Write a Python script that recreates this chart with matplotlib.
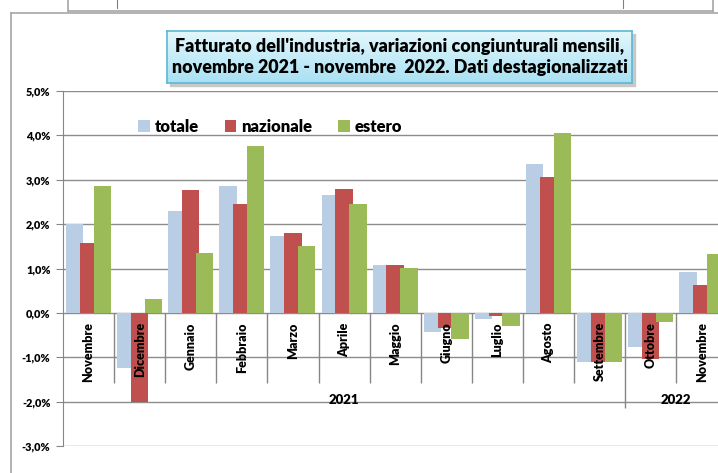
import numpy as np
import matplotlib
matplotlib.use("Agg")
import matplotlib.pyplot as plt
from matplotlib.lines import Line2D
from matplotlib.patches import Rectangle

plt.rcParams['font.family'] = ['Lato', 'DejaVu Sans']

mesi = ["Novembre", "Dicembre", "Gennaio", "Febbraio", "Marzo", "Aprile", "Maggio",
        "Giugno", "Luglio", "Agosto", "Settembre", "Ottobre", "Novembre"]
anni = ["2021", "2022"]
n_mesi_anno = [11, 2]

totale = [2.00, -1.25, 2.29, 2.86, 1.73, 2.65, 1.08, -0.43, -0.14, 3.36, -1.11, -0.77, 0.91]
nazionale = [1.57, -2.01, 2.76, 2.45, 1.80, 2.79, 1.07, -0.35, -0.07, 3.06, -1.11, -1.05, 0.63]
estero = [2.86, 0.31, 1.34, 3.75, 1.51, 2.45, 1.01, -0.58, -0.29, 4.05, -1.11, -0.21, 1.33]

serie = ["totale", "nazionale", "estero"]
colori = ['#b9cde5', '#c0504d', '#9bbb59']

W, H = 718, 473
fig = plt.figure(figsize=(W / 100, H / 100), dpi=100)
fig.patch.set_facecolor('white')

# cornice del grafico e pezzo di tabella sopra
gray = '#a6a6a6'
fig.add_artist(Line2D([11 / W, 11 / W], [0, 1 - 13 / H], color=gray, lw=1.2))
fig.add_artist(Line2D([11 / W, 1], [1 - 13 / H, 1 - 13 / H], color=gray, lw=1.2))
fig.add_artist(Line2D([68 / W, 713 / W], [1 - 11 / H, 1 - 11 / H], color=gray, lw=1.2))
for xx in [68, 713]:
    fig.add_artist(Line2D([xx / W, xx / W], [1 - 11 / H, 1], color=gray, lw=1.2))
for xx in [117, 623]:
    fig.add_artist(Line2D([xx / W, xx / W], [1 - 8 / H, 1], color='#808080', lw=0.8))

# grafico
gw = 51.1
ax = fig.add_axes([63 / W, 27 / H, 13 * gw / W, 355 / H])
x = np.arange(len(mesi)) + 0.5
offs = [-0.27, 0.0, 0.27]
for vals, lab, col, o in zip([totale, nazionale, estero], serie, colori, offs):
    ax.bar(x + o, np.array(vals) / 100, width=0.34, color=col, label=lab, zorder=2)

ax.set_xlim(0, len(mesi))
ax.set_ylim(-0.03, 0.05)
ax.set_yticks(np.arange(-0.03, 0.0501, 0.01))
ax.set_yticklabels([f"{v * 100:.1f}%".replace('.', ',') for v in ax.get_yticks()],
                   fontsize=7.8, fontweight='heavy')
ax.tick_params(axis='y', length=5, color='#868686', pad=4)
ax.set_xticks([])
ax.yaxis.grid(True, color='#8c8c8c', lw=1)
ax.set_axisbelow(True)
for s in ['top', 'right', 'bottom']:
    ax.spines[s].set_visible(False)
ax.spines['left'].set_color('#868686')

# etichette categorie e anni
for xi, m in zip(x, mesi):
    ax.text(xi, -0.0021, m, rotation=90, ha='center', va='top', fontsize=9,
            fontweight='heavy', zorder=3)
ax.vlines([i for i in range(1, len(mesi)) if i != 11], 0, -0.0158, color='#868686', lw=1)
ax.vlines([11, 13], 0, -0.0214, color='#868686', lw=1)
start = 0
for a, n in zip(anni, n_mesi_anno):
    ax.text(start + n / 2, -0.0196, a, ha='center', va='center', fontsize=9.5,
            fontweight='heavy', zorder=3)
    start += n

ax.legend(loc='center left', bbox_to_anchor=(138 / W, 1 - 127 / H),
          bbox_transform=fig.transFigure, ncol=3, frameon=False,
          prop={'size': 12, 'weight': 'heavy'}, handlelength=0.7, handleheight=0.7,
          handletextpad=0.3, columnspacing=1.55, borderaxespad=0, borderpad=0)

# riquadro del titolo con sfumatura
bx, by, bw, bh = 167, 31, 465, 52
fig.add_artist(Rectangle(((bx + 3) / W, 1 - (by + bh + 3) / H), bw / W, bh / H,
                         transform=fig.transFigure, color='#c8c8c8', zorder=1))
tax = fig.add_axes([bx / W, 1 - (by + bh) / H, bw / W, bh / H], zorder=2)
grad = np.linspace(0, 1, 64).reshape(-1, 1)
cmap = matplotlib.colors.LinearSegmentedColormap.from_list('t', ['#e3f7fc', '#a9e1f3'])
tax.imshow(grad, aspect='auto', cmap=cmap, extent=[0, 1, 0, 1], origin='upper')
tax.set_xticks([])
tax.set_yticks([])
for s in tax.spines.values():
    s.set_color('#5bb8d6')
    s.set_linewidth(1.2)
tax.text(0.5, 0.5, "Fatturato dell'industria, variazioni congiunturali mensili,\n"
         "novembre 2021 - novembre  2022. Dati destagionalizzati",
         ha='center', va='center', fontsize=12.9, fontweight='heavy', linespacing=1.28,
         transform=tax.transAxes)

fig.savefig("out.png", dpi=100)
